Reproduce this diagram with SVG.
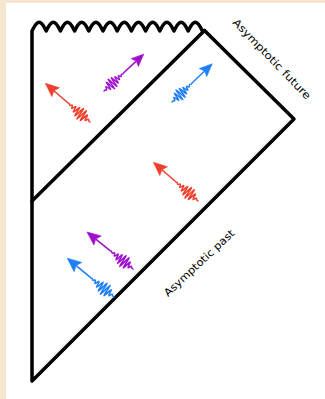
<svg xmlns="http://www.w3.org/2000/svg" xmlns:xlink="http://www.w3.org/1999/xlink" width="325" height="399" viewBox="0 0 325 399">
<style>
.frame{fill:none;stroke:#000;stroke-width:3.5;stroke-linejoin:round;stroke-linecap:round}
.lbl{font-family:"DejaVu Sans","Liberation Sans",sans-serif;font-size:10.5px;fill:#000}
.wave{fill:none;stroke:currentColor;stroke-width:1.5;stroke-linejoin:round;stroke-linecap:round}
.head{fill:currentColor;stroke:currentColor;stroke-width:0.6;stroke-linejoin:round}
.red{color:#ef3f2c}
.purple{color:#a010cc}
.blue{color:#1f7ff5}
</style>
<defs>
<g id="photon">
<path class="wave" d="M0,0 L2,0 Q2.9,2.1 3.8,0 Q4.7,-4.3 5.6,0 Q6.5,7.4 7.4,0 Q8.3,-10.6 9.2,0 Q10.1,12.7 11,0 Q11.9,-12.9 12.8,0 Q13.7,12.1 14.6,0 Q15.5,-10.6 16.4,0 Q17.3,8.7 18.2,0 Q19.1,-6.75 20,0 Q20.9,4.9 21.8,0 Q22.7,-3.3 23.6,0 Q24.5,2.1 25.4,0 Q26.3,-1.25 27.2,0 Q28.1,0.7 29,0 L47,0"/>
<polygon class="head" points="59,0 45.5,-5.8 47.8,0 45.5,5.8"/>
</g>
</defs>
<rect x="0" y="0" width="325" height="399" fill="#f6e6d0"/>
<rect x="6" y="3" width="319" height="396" fill="#ffffff"/>
<g id="spacetime">
<path class="frame" d="M32,381 V31 C33.6,28 35.9,22.3 39.1,22.3 C42.3,22.3 44.6,28 46.2,31 C47.8,28 50.1,22.3 53.3,22.3 C56.5,22.3 58.8,28 60.4,31 C62,28 64.3,22.3 67.5,22.3 C70.7,22.3 73,28 74.6,31 C76.2,28 78.5,22.3 81.7,22.3 C84.9,22.3 87.2,28 88.8,31 C90.4,28 92.7,22.3 95.9,22.3 C99.1,22.3 101.4,28 103,31 C104.6,28 106.9,22.3 110.1,22.3 C113.3,22.3 115.6,28 117.2,31 C118.8,28 121.1,22.3 124.3,22.3 C127.5,22.3 129.8,28 131.4,31 C133,28 135.3,22.3 138.5,22.3 C141.7,22.3 144,28 145.6,31 C147.2,28 149.5,22.3 152.7,22.3 C155.9,22.3 158.2,28 159.8,31 C161.4,28 163.7,22.3 166.9,22.3 C170.1,22.3 172.4,28 174,31 C175.6,28 177.9,22.3 181.1,22.3 C184.3,22.3 186.6,28 188.2,31 C189.8,28 192.1,22.3 195.3,22.3 C198.5,22.3 200.8,28 202.4,31 L204.5,30.5 L294,119 L32,381 Z"/>
<path class="frame" d="M32,201 L204.5,30.5"/>
</g>
<g id="labels">
<text class="lbl" transform="translate(232,23) rotate(46)" textLength="107" lengthAdjust="spacingAndGlyphs">Asymptotic future</text>
<text class="lbl" transform="translate(168,297) rotate(-43)" textLength="92" lengthAdjust="spacingAndGlyphs">Asymptotic past</text>
</g>
<g id="photons">
<use id="photon-red-1" class="red" xlink:href="#photon" transform="translate(90,122) rotate(-139.1)"/>
<use id="photon-purple-1" class="purple" xlink:href="#photon" transform="translate(104,91) rotate(-42.8) scale(0.92)"/>
<use id="photon-blue-1" class="blue" xlink:href="#photon" transform="translate(172,102) rotate(-43.5) scale(0.94)"/>
<use id="photon-red-2" class="red" xlink:href="#photon" transform="translate(198,201) rotate(-139.1)"/>
<use id="photon-purple-2" class="purple" xlink:href="#photon" transform="translate(133,269) rotate(-141.2)"/>
<use id="photon-blue-2" class="blue" xlink:href="#photon" transform="translate(114,297) rotate(-140.3) scale(1.03)"/>
</g>
</svg>
